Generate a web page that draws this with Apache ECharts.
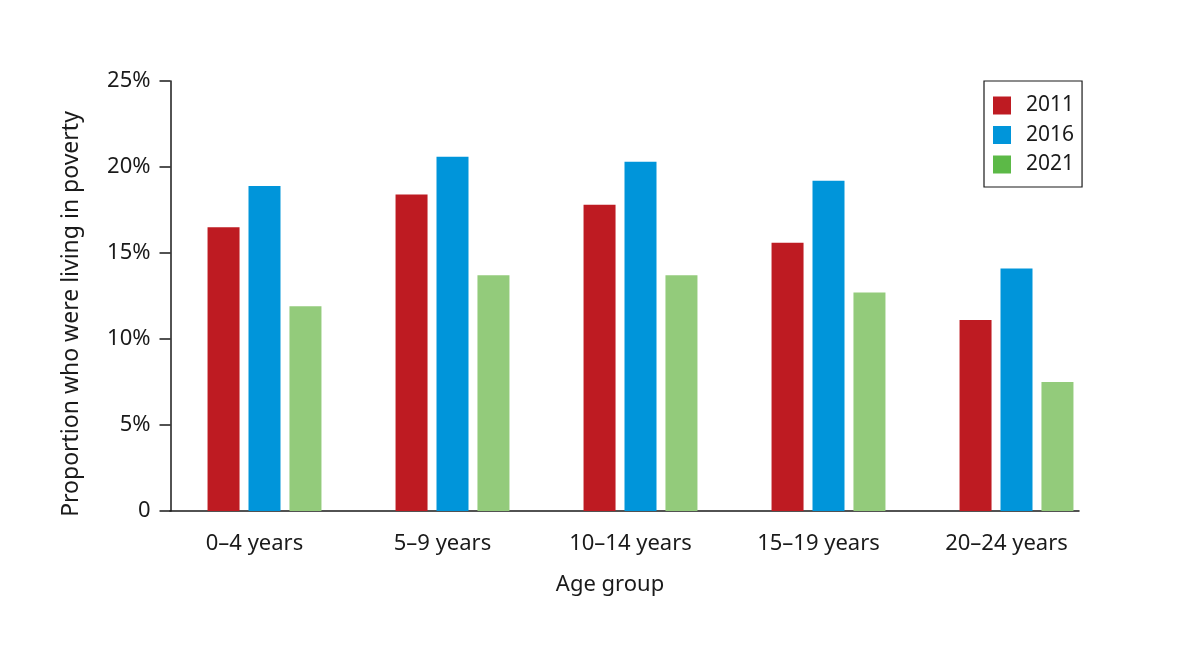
<!DOCTYPE html>
<html>
<head>
<meta charset="utf-8">
<script src="https://cdn.jsdelivr.net/npm/echarts@6/dist/echarts.min.js"></script>
<style>
  html, body { margin: 0; padding: 0; background: #fff; }
  #chart { width: 1200px; height: 653px; }
</style>
</head>
<body>
<div id="chart"></div>
<script>
// data
const ageGroups = ['0\u20134 years', '5\u20139 years', '10\u201314 years', '15\u201319 years', '20\u201324 years'];
const years = ['2011', '2016', '2021'];
const values2011 = [16.5, 18.4, 17.8, 15.6, 11.1];
const values2016 = [18.9, 20.6, 20.3, 19.2, 14.1];
const values2021 = [11.9, 13.7, 13.7, 12.7, 7.5];
const yTicks = [0, 5, 10, 15, 20, 25];

const barColors = ['#be1b22', '#0095da', '#93cb7b'];
const legendColors = ['#be1b22', '#0095da', '#5cb947'];
const font = 'Noto Sans';

const myChart = echarts.init(document.getElementById('chart'));

const option = {
    backgroundColor: '#fff',
    textStyle: { fontFamily: font, color: '#1a1a1a' },
    animation: false,
    grid: [
        // bars
        { left: 170.5, top: 81, width: 940, bottom: 142 },
        // only used for the x axis line and its title
        { left: 170, top: 81, right: 121, bottom: 142 }
    ],
    legend: {
        data: years.map((y, i) => ({ name: y, itemStyle: { color: legendColors[i] } })),
        orient: 'vertical',
        left: 984,
        top: 81,
        width: 97,
        padding: [14, 8, 12, 9],
        itemWidth: 18,
        itemHeight: 18,
        itemGap: 8.5,
        icon: 'rect',
        borderColor: '#1a1a1a',
        borderWidth: 1.2,
        textStyle: { fontFamily: font, fontSize: 21, color: '#1a1a1a', padding: [0, 0, 0, 10] }
    },
    xAxis: [
        {
            type: 'category',
            gridIndex: 0,
            data: ageGroups,
            axisLine: { show: false },
            axisTick: { show: false },
            axisLabel: { margin: 22, fontSize: 22, color: '#1a1a1a', fontFamily: font, padding: [0, 20, 0, 0] }
        },
        {
            type: 'value',
            gridIndex: 1,
            min: 0,
            max: 1,
            axisLine: { show: true, lineStyle: { color: '#1a1a1a', width: 1.5 } },
            axisTick: { show: false },
            axisLabel: { show: false },
            splitLine: { show: false },
            name: 'Age group',
            nameLocation: 'middle',
            nameGap: 63,
            nameTextStyle: { fontSize: 22, color: '#1a1a1a', fontFamily: font, padding: [0, 29, 0, 0] }
        }
    ],
    yAxis: [
        {
            type: 'value',
            gridIndex: 0,
            min: 0,
            max: 25,
            interval: 5,
            axisLine: { show: true, lineStyle: { color: '#1a1a1a', width: 1.5 } },
            axisTick: { show: true, inside: false, length: 11, lineStyle: { color: '#1a1a1a', width: 1.5 } },
            splitLine: { show: false },
            axisLabel: {
                margin: 20,
                fontSize: 22,
                color: '#1a1a1a',
                fontFamily: font,
                padding: [7, 0, 0, 0],
                formatter: v => (yTicks.indexOf(v) >= 0 ? (v === 0 ? '0' : v + '%') : '')
            },
            name: 'Proportion who were living in poverty',
            nameLocation: 'middle',
            nameGap: 88,
            nameTextStyle: { fontSize: 23, color: '#1a1a1a', fontFamily: font, padding: [0, 36, 0, 0] }
        },
        { type: 'value', gridIndex: 1, show: false, min: 0, max: 1 }
    ],
    series: [values2011, values2016, values2021].map((vals, i) => ({
        name: years[i],
        type: 'bar',
        xAxisIndex: 0,
        yAxisIndex: 0,
        data: vals,
        barWidth: 32,
        barGap: '28%',
        itemStyle: { color: barColors[i] }
    }))
};

myChart.setOption(option);
</script>
</body>
</html>
